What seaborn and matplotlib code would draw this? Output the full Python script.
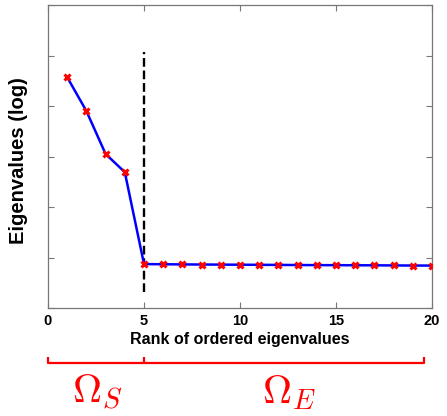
import numpy as np
import pandas as pd
import matplotlib
matplotlib.use("Agg")
import matplotlib.pyplot as plt
import matplotlib.transforms as mtransforms
import seaborn as sns

# ---- data ----
ranks = [1, 2, 3, 4, 5, 6, 7, 8, 9, 10, 11, 12, 13, 14, 15, 16, 17, 18, 19, 20]
log_eigenvalues = [4.57, 3.90, 3.05, 2.69, 0.87, 0.866, 0.863, 0.861, 0.859, 0.857,
                   0.855, 0.853, 0.851, 0.849, 0.848, 0.846, 0.845, 0.843, 0.841, 0.84]
split_rank = 5
x_ticks = [0, 5, 10, 15, 20]
y_ticks = [0, 1, 2, 3, 4, 5, 6]
x_label = "Rank of ordered eigenvalues"
y_label = "Eigenvalues (log)"
omega_labels = [r"$\Omega_S$", r"$\Omega_E$"]

sns.set_style("white")
plt.rcParams["font.family"] = ["Liberation Sans", "DejaVu Sans"]
plt.rcParams["mathtext.fontset"] = "cm"
plt.rcParams["text.color"] = "black"
plt.rcParams["axes.labelcolor"] = "black"

df = pd.DataFrame({"rank": ranks, "value": log_eigenvalues})

fig = plt.figure(figsize=(4.47, 4.16), dpi=100)
ax = fig.add_axes([48 / 447, 1 - 308 / 416, 384 / 447, 303 / 416])

# vertical dashed separator
ax.plot([split_rank, split_rank], [0.32, 5.07], color="black", lw=1.7,
        linestyle="--", zorder=2)

sns.lineplot(data=df, x="rank", y="value", ax=ax, color="#0000ff", lw=1.8,
             marker="x", markersize=5, markeredgewidth=2.2,
             markeredgecolor="red", zorder=3)

ax.set_xlim(0, 20)
ax.set_ylim(0, 6)
ax.set_xticks(x_ticks)
ax.set_xticklabels([str(t) for t in x_ticks], fontsize=10.5, fontweight="bold")
ax.set_yticks(y_ticks)
ax.set_yticklabels([])
ax.tick_params(direction="in", top=True, right=True, bottom=True, left=True,
               length=4, width=0.8, color="#777777", pad=4.5,
               labelcolor="black")
for sp in ax.spines.values():
    sp.set_visible(True)
    sp.set_color("#777777")
    sp.set_linewidth(0.9)

ax.set_xlabel(x_label, fontsize=11.5, fontweight="bold")
ax.set_ylabel(y_label, fontsize=14.5, fontweight="bold")
ax.xaxis.set_label_coords(0.5, -0.078)
ax.yaxis.set_label_coords(-0.052, 0.487)

# red bracket below the axis
trans = mtransforms.blended_transform_factory(ax.transData, ax.transAxes)
y_line = (308 - 363) / 303
y_top = (308 - 357) / 303
x_right = (424 - 48) / 19.2
ax.plot([0, 0, x_right, x_right], [y_top, y_line, y_line, y_top], color="red",
        lw=1.6, transform=trans, clip_on=False, solid_capstyle="butt")
ax.plot([split_rank, split_rank], [y_top, y_line], color="red", lw=1.6,
        transform=trans, clip_on=False, solid_capstyle="butt")

y_omega = (308 - 403) / 303
ax.text(2.6, y_omega, omega_labels[0], color="red", fontsize=29, ha="center",
        va="baseline", transform=trans)
ax.text(12.55, y_omega, omega_labels[1], color="red", fontsize=29, ha="center",
        va="baseline", transform=trans)

fig.savefig("out.png", dpi=100)
